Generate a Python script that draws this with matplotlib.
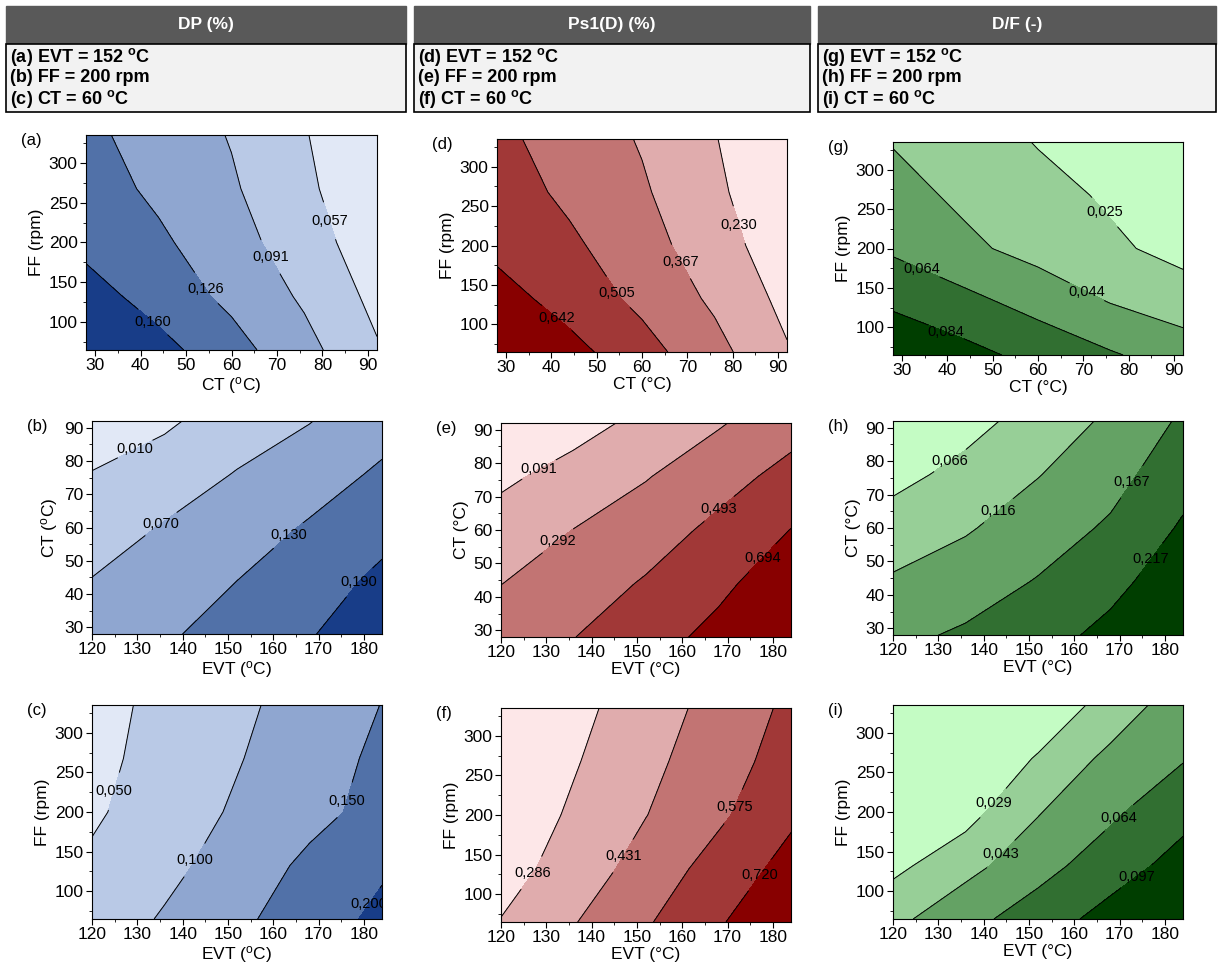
import numpy as np
import matplotlib
matplotlib.use('Agg')
import matplotlib.pyplot as plt
from matplotlib.patches import Rectangle
from matplotlib.ticker import MultipleLocator, AutoMinorLocator

plt.rcParams['font.family'] = ['Liberation Sans', 'DejaVu Sans']
plt.rcParams['mathtext.fontset'] = 'custom'
plt.rcParams['mathtext.rm'] = 'Liberation Sans'
plt.rcParams['mathtext.bf'] = 'Liberation Sans:bold'
plt.rcParams['mathtext.it'] = 'Liberation Sans:italic'

# grid axes of the response surfaces
CT = [28, 44, 60, 76, 92]
EVT = [120, 136, 152, 168, 184]
FF = [65, 132.5, 200, 267.5, 335]

# values, rows = y, columns = x
dp_ct_ff = [[0.200, 0.171, 0.139, 0.102, 0.060],
            [0.174, 0.146, 0.118, 0.086, 0.048],
            [0.151, 0.132, 0.104, 0.073, 0.037],
            [0.142, 0.119, 0.095, 0.064, 0.030],
            [0.134, 0.111, 0.089, 0.059, 0.028]]
dp_evt_ct = [[0.102, 0.122, 0.154, 0.185, 0.236],
             [0.072, 0.098, 0.130, 0.161, 0.203],
             [0.042, 0.074, 0.101, 0.136, 0.171],
             [0.012, 0.040, 0.073, 0.103, 0.139],
             [-0.018, 0.000, 0.041, 0.068, 0.107]]
dp_evt_ff = [[0.070, 0.105, 0.140, 0.175, 0.212],
             [0.058, 0.086, 0.123, 0.160, 0.193],
             [0.043, 0.075, 0.106, 0.136, 0.166],
             [0.037, 0.067, 0.097, 0.128, 0.160],
             [0.034, 0.062, 0.090, 0.120, 0.151]]
ps_ct_ff = [[0.802, 0.686, 0.557, 0.411, 0.241],
            [0.698, 0.587, 0.472, 0.344, 0.193],
            [0.606, 0.530, 0.420, 0.292, 0.148],
            [0.571, 0.477, 0.384, 0.257, 0.122],
            [0.536, 0.448, 0.356, 0.236, 0.114]]
ps_evt_ct = [[0.406, 0.489, 0.608, 0.754, 0.920],
             [0.289, 0.392, 0.512, 0.647, 0.823],
             [0.172, 0.295, 0.399, 0.541, 0.698],
             [0.055, 0.159, 0.281, 0.416, 0.557],
             [-0.062, 0.021, 0.140, 0.274, 0.416]]
ps_evt_ff = [[0.292, 0.423, 0.560, 0.705, 0.851],
             [0.225, 0.351, 0.488, 0.634, 0.769],
             [0.186, 0.307, 0.428, 0.550, 0.696],
             [0.156, 0.274, 0.393, 0.514, 0.636],
             [0.128, 0.245, 0.361, 0.481, 0.605]]
df_ct_ff = [[0.100, 0.090, 0.078, 0.066, 0.0545],
            [0.0805, 0.0695, 0.0567, 0.0433, 0.034],
            [0.061, 0.048, 0.0372, 0.0282, 0.0192],
            [0.051, 0.040, 0.0313, 0.0225, 0.016],
            [0.043, 0.0345, 0.024, 0.016, 0.010]]
df_evt_ct = [[0.155, 0.174, 0.197, 0.231, 0.265],
             [0.122, 0.1425, 0.170, 0.202, 0.248],
             [0.087, 0.111, 0.142, 0.174, 0.223],
             [0.0515, 0.080, 0.114, 0.149, 0.1984],
             [0.025, 0.0495, 0.085, 0.125, 0.1745]]
df_evt_ff = [[0.0384, 0.0549, 0.0781, 0.1108, 0.150],
             [0.0257, 0.0375, 0.0538, 0.0791, 0.111],
             [0.014, 0.024, 0.0419, 0.0588, 0.0853],
             [0.010, 0.0183, 0.030, 0.0468, 0.062],
             [0.006, 0.012, 0.0202, 0.0335, 0.0517]]

# contour levels as labelled
lev_a = [0.057, 0.091, 0.126, 0.160]
lev_b = [0.010, 0.070, 0.130, 0.190]
lev_c = [0.050, 0.100, 0.150, 0.200]
lev_d = [0.230, 0.367, 0.505, 0.642]
lev_e = [0.091, 0.292, 0.493, 0.694]
lev_f = [0.286, 0.431, 0.575, 0.720]
lev_g = [0.025, 0.044, 0.064, 0.084]
lev_h = [0.066, 0.116, 0.167, 0.217]
lev_i = [0.029, 0.043, 0.064, 0.097]

titles = ['DP (%)', 'Ps1(D) (%)', 'D/F (-)']
fixed = [['(a) EVT = 152 ', '(b) FF = 200 rpm', '(c) CT = 60 '],
         ['(d) EVT = 152 ', '(e) FF = 200 rpm', '(f) CT = 60 '],
         ['(g) EVT = 152 ', '(h) FF = 200 rpm', '(i) CT = 60 ']]

blues = ['#E1E8F6', '#B9C9E6', '#8FA6D0', '#5171A8', '#183D88']
reds = ['#FDE7E8', '#E0ACAD', '#C27473', '#A13837', '#880000']
greens = ['#C4FCC4', '#97CF97', '#64A264', '#316F31', '#003E00']

W, H = 1218, 966
fig = plt.figure(figsize=(W / 100, H / 100), dpi=100)

deg_o = r'($\mathregular{^{o}}$C)'
deg = '(°C)'

# tag, rect(px), x, y, z, levels, colors, xlabel, ylabel, label spots
panels = [
    ('(a)', (86, 135, 377, 350), CT, FF, dp_ct_ff, lev_a, blues, 'CT ' + deg_o, 'FF (rpm)',
     [(42.7, 100), (55.3, 146), (68.9, 183), (81.4, 227)]),
    ('(b)', (92, 421, 382, 634), EVT, CT, dp_evt_ct, lev_b, blues, 'EVT ' + deg_o, 'CT ' + deg_o,
     [(129.1, 84.7), (135, 61.5), (162.9, 58.3), (179.4, 43.1)]),
    ('(c)', (92, 705, 382, 919), EVT, FF, dp_evt_ff, lev_c, blues, 'EVT ' + deg_o, 'FF (rpm)',
     [(125.1, 225.7), (143.1, 137.7), (176.5, 213.2), (181, 84)]),
    ('(d)', (497, 139, 787, 352), CT, FF, ps_ct_ff, lev_d, reds, 'CT ' + deg, 'FF (rpm)',
     [(41.3, 109), (55.7, 144.5), (69.2, 181.5), (81.5, 226.5)]),
    ('(e)', (501, 423, 791, 637), EVT, CT, ps_evt_ct, lev_e, reds, 'EVT ' + deg, 'CT ' + deg,
     [(128.4, 78.1), (132.4, 57.0), (167.7, 67.0), (177.9, 51.3)]),
    ('(f)', (501, 708, 791, 922), EVT, FF, ps_evt_ff, lev_f, reds, 'EVT ' + deg, 'FF (rpm)',
     [(127.1, 125.6), (147.8, 145.4), (172.0, 208.4), (178.1, 120.2)]),
    ('(g)', (893, 142, 1183, 355), CT, FF, df_ct_ff, lev_g, greens, 'CT ' + deg, 'FF (rpm)',
     [(39.5, 90.7), (34, 168.6), (70.7, 144.2), (76.7, 256.1)]),
    ('(h)', (893, 421, 1183, 635), EVT, CT, df_evt_ct, lev_h, greens, 'EVT ' + deg, 'CT ' + deg,
     [(132.8, 79.8), (143.8, 64.4), (174.3, 72.3), (178.7, 49.0)]),
    ('(i)', (893, 705, 1183, 919), EVT, FF, df_evt_ff, lev_i, greens, 'EVT ' + deg, 'FF (rpm)',
     [(142.4, 209.9), (144.9, 140.7), (171, 185.6), (174.3, 113.8)]),
]

def fmt(v):
    return ('%.3f' % v).replace('.', ',')

for tag, (l, t, r, b), xs, ys, z, lev, cols, xl, yl, spots in panels:
    ax = fig.add_axes([l / W, 1 - b / H, (r - l) / W, (b - t) / H])
    Z = np.array(z)
    bounds = [Z.min() - 1] + lev + [Z.max() + 1]
    ax.contourf(xs, ys, Z, levels=bounds, colors=cols)
    cs = ax.contour(xs, ys, Z, levels=lev, colors='k', linewidths=0.7)
    txts = ax.clabel(cs, manual=spots, inline=True, inline_spacing=1, fmt=fmt, fontsize=10.5)
    for tx in txts:
        tx.set_rotation(0)
    ax.set_xlim(xs[0], xs[-1])
    ax.set_ylim(ys[0], ys[-1])
    ax.xaxis.set_major_locator(MultipleLocator(10))
    ax.yaxis.set_major_locator(MultipleLocator(50 if ys is FF else 10))
    ax.xaxis.set_minor_locator(AutoMinorLocator(2))
    ax.yaxis.set_minor_locator(AutoMinorLocator(2))
    ax.tick_params(which='major', direction='out', length=4, width=0.8, labelsize=12.5, pad=2)
    ax.tick_params(which='minor', direction='out', length=2, width=0.6)
    for s in ax.spines.values():
        s.set_linewidth(0.8)
    ax.set_xlabel(xl, fontsize=12.5, labelpad=1)
    ax.set_ylabel(yl, fontsize=12.5, labelpad=3)
    fig.text((l - 65) / W, 1 - (t - 2) / H, tag, fontsize=12, ha='left', va='top')

# header boxes on a pixel overlay
ov = fig.add_axes([0, 0, 1, 1], zorder=-1)
ov.set_xlim(0, W)
ov.set_ylim(H, 0)
ov.axis('off')
box_x = [(6, 406), (414, 810), (818, 1216)]
for k, (x0, x1) in enumerate(box_x):
    ov.add_patch(Rectangle((x0, 6), x1 - x0, 38, facecolor='#595959', edgecolor='#595959'))
    ov.add_patch(Rectangle((x0, 44), x1 - x0, 68, facecolor='#F2F2F2', edgecolor='black', lw=1.2))
    ov.text((x0 + x1) / 2, 25, titles[k], color='white', fontsize=12.5, fontweight='bold',
            ha='center', va='center')
    for j, s in enumerate(fixed[k]):
        if j != 1:
            s = s + r'$\mathbf{^{o}}$C'
        ov.text(x0 + 4, 57 + 21 * j, s, fontsize=13, fontweight='bold', ha='left', va='center')

fig.savefig('out.png', dpi=100)
